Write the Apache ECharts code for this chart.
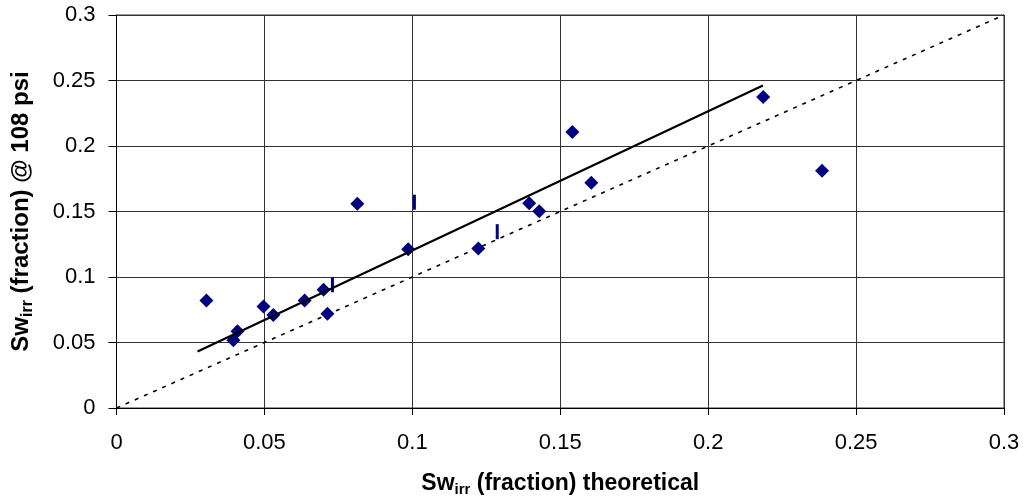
<!DOCTYPE html>
<html>
<head>
<meta charset="utf-8">
<script src="https://cdn.jsdelivr.net/npm/echarts@6/dist/echarts.min.js"></script>
<style>
html,body{margin:0;padding:0;background:#fff;}
#chart{width:1024px;height:502px;}
</style>
</head>
<body>
<div id="chart"></div>
<script>
// Measured data (x = theoretical Sw_irr, y = Sw_irr @ 108 psi)
const measuredX = [0.0304, 0.0395, 0.0409, 0.0497, 0.0530, 0.0636, 0.0700, 0.0713, 0.0814, 0.0986, 0.1223, 0.1395, 0.1429, 0.1541, 0.1605, 0.2186, 0.2385];
const measuredY = [0.0820, 0.0517, 0.0585, 0.0774, 0.0710, 0.0820, 0.0902, 0.0720, 0.1559, 0.1211, 0.1218, 0.1563, 0.1502, 0.2107, 0.1719, 0.2375, 0.1811];
// Secondary markers (small vertical bars)
const barX = [0.0730, 0.1007, 0.1287];
const barY = [0.0941, 0.1571, 0.1346];
// Linear trend line end points
const trendX = [0.0274, 0.2185];
const trendY = [0.0431, 0.2461];
// 1:1 reference line
const refX = [0, 0.3];
const refY = [0, 0.3];
const xTicks = [0, 0.05, 0.1, 0.15, 0.2, 0.25, 0.3];
const yTicks = [0, 0.05, 0.1, 0.15, 0.2, 0.25, 0.3];

const zip = (a, b) => a.map((v, i) => [v, b[i]]);
const font = '"Liberation Sans", Arial, sans-serif';
const gridColor = '#333';

function richName(size, sub) {
  return {
    a: { fontFamily: font, fontSize: size, fontWeight: 'bold', color: '#000', lineHeight: size + 4, verticalAlign: 'middle' },
    b: { fontFamily: font, fontSize: sub, fontWeight: 'bold', color: '#000', lineHeight: sub, verticalAlign: 'bottom' }
  };
}

const chart = echarts.init(document.getElementById('chart'));
chart.setOption({
  animation: false,
  backgroundColor: '#fff',
  grid: { left: 116.5, right: 20, top: 15, bottom: 93.5, show: true, borderColor: gridColor, borderWidth: 1 },
  xAxis: {
    type: 'value', min: xTicks[0], max: xTicks[xTicks.length - 1], interval: 0.05,
    axisLine: { show: true, onZero: false, lineStyle: { color: '#000', width: 1 } },
    axisTick: { show: true, inside: false, length: 7, lineStyle: { color: '#000' } },
    splitLine: { show: true, lineStyle: { color: gridColor, width: 1 } },
    axisLabel: { color: '#000', fontFamily: font, fontSize: 22, margin: 24, formatter: v => String(+v.toFixed(2)) },
    name: '{a|Sw}{b|irr}{a| (fraction) theoretical}',
    nameLocation: 'middle', nameGap: 62,
    nameTextStyle: { rich: richName(23, 15) }
  },
  yAxis: {
    type: 'value', min: yTicks[0], max: yTicks[yTicks.length - 1], interval: 0.05,
    axisLine: { show: true, onZero: false, lineStyle: { color: '#000', width: 1 } },
    axisTick: { show: true, inside: false, length: 8, lineStyle: { color: '#000' } },
    splitLine: { show: true, lineStyle: { color: gridColor, width: 1 } },
    axisLabel: { color: '#000', fontFamily: font, fontSize: 22, margin: 21, formatter: v => String(+v.toFixed(2)) },
    name: '{a|Sw}{b|irr}{a| (fraction) @ 108 psi}',
    nameLocation: 'middle', nameGap: 81, nameRotate: 90,
    nameTextStyle: { rich: richName(24, 16) }
  },
  series: [
    {
      type: 'line', data: zip(refX, refY), symbol: 'none', z: 3,
      lineStyle: { color: '#000', width: 1.6, type: [4, 6] }
    },
    {
      type: 'scatter', data: zip(measuredX, measuredY), symbol: 'diamond', symbolSize: 14, z: 4,
      itemStyle: { color: '#000080', opacity: 1 }
    },
    {
      type: 'scatter', data: zip(barX, barY), symbol: 'rect', symbolSize: [3, 15], z: 4,
      itemStyle: { color: '#000080', opacity: 1 }
    },
    {
      type: 'line', data: zip(trendX, trendY), symbol: 'none', z: 5,
      lineStyle: { color: '#000', width: 2.2 }
    }
  ]
});
</script>
</body>
</html>
